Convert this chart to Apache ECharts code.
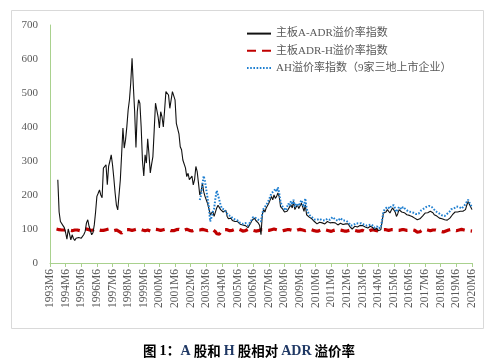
<!DOCTYPE html>
<html>
<head>
<meta charset="utf-8">
<script src="https://cdn.jsdelivr.net/npm/echarts/dist/echarts.min.js"></script>
<style>
html,body{margin:0;padding:0;background:#fff;}
#chart{width:494px;height:363px;}
</style>
</head>
<body>
<div id="chart"></div>
<script>
// ---- data ----
var startYear = 1993, startMonth = 6, monthCount = 325; // 1993M6 .. 2020M6
var seriesNames = ['主板A-ADR溢价率指数', '主板ADR-H溢价率指数', 'AH溢价率指数（9家三地上市企业）'];
var yTicks = [0, 100, 200, 300, 400, 500, 600, 700];

// 主板A-ADR溢价率指数, starts 1993M12 (index 6)
var aAdrStart = 6;
var aAdrValues = [
  245,150,122,123,110,104,
  89,70,100,85,68,83,72,66,73,70,75,70,
  73,78,84,93,118,127,108,95,83,89,112,150,
  196,205,215,200,192,279,283,289,230,284,300,318,
  289,250,206,170,156,160,245,320,397,338,362,401,
  450,480,530,602,520,445,340,445,480,470,400,300,
  256,318,294,365,320,265,290,313,390,470,475,430,
  397,445,430,400,450,504,500,494,455,480,504,504,
  480,411,416,380,342,333,303,308,280,254,264,245,
  250,256,230,245,284,269,235,200,210,235,210,196,
  196,175,160,142,145,152,137,140,162,170,166,157,
  155,150,147,155,137,130,127,132,125,122,122,118,
  122,118,114,115,112,108,110,108,104,103,117,125,
  128,132,125,127,117,110,83,142,157,150,162,160,
  176,185,196,186,200,190,196,206,195,166,162,157,
  150,147,152,157,165,171,162,181,157,165,171,160,
  157,176,165,152,171,142,140,135,132,130,127,122,
  117,115,118,120,122,118,117,115,120,122,120,118,
  117,119,122,118,115,112,114,117,117,113,112,115,
  117,115,108,103,100,105,108,110,106,108,110,112,
  110,108,106,104,103,106,108,108,104,98,100,102,
  95,90,98,100,147,152,150,157,155,147,155,162,
  158,150,137,145,157,155,150,152,148,147,142,140,
  140,138,137,135,132,130,127,128,130,132,138,142,
  147,150,148,152,152,150,148,142,140,138,135,132,
  135,130,128,127,125,126,127,132,137,142,145,150,
  152,150,155,152,150,152,155,157,170,181,176,165,157
];

// 主板ADR-H溢价率指数, starts 1993M11 (index 5)
var adrHStart = 5;
var adrHValues = [
  100,103,98,96,97,95,97,
  98,100,99,97,96,95,96,97,98,97,96,95,
  96,98,100,101,100,99,97,96,95,97,99,100,
  99,98,97,96,95,96,97,98,99,100,99,97,
  96,95,96,97,95,93,90,88,92,96,97,98,
  99,98,97,96,97,98,99,100,101,100,98,97,
  96,95,96,97,96,94,93,95,97,99,100,98,
  97,96,97,98,99,100,99,98,97,95,94,95,
  96,98,100,99,97,96,95,96,98,99,97,96,
  95,94,96,97,98,97,96,97,98,99,98,97,
  96,95,97,98,99,98,96,92,86,83,85,90,
  95,97,98,99,98,96,95,94,96,98,99,100,
  101,100,98,96,94,93,95,97,99,100,99,97,
  96,95,94,93,95,97,98,99,98,97,96,95,
  96,97,98,99,100,99,98,97,96,95,94,95,
  96,97,98,99,98,97,96,95,94,95,97,98,
  99,98,97,96,95,96,97,98,99,98,96,95,
  94,93,94,96,97,98,99,98,97,96,95,94,
  93,94,96,97,98,99,98,97,96,95,94,93,
  94,95,96,97,98,97,96,95,94,93,94,95,
  96,94,92,91,92,94,96,97,98,97,96,95,
  94,95,96,97,98,99,98,97,96,97,98,99,
  98,97,96,95,96,97,98,99,98,97,96,95,
  96,97,98,97,96,94,91,89,92,95,97,98,
  99,98,97,96,95,96,97,98,97,96,95,94,
  93,92,91,92,94,96,97,98,99,98,97,96,
  95,96,97,98,99,98,97,96,95,94,95,96,94
];

// AH溢价率指数（9家三地上市企业）, starts 2003M1 (index 115)
var ahStart = 115;
var ahValues = [
  185,200,230,256,240,
  215,190,165,122,135,150,160,190,213,200,185,170,
  160,155,157,150,145,140,135,138,132,130,128,125,
  125,120,118,122,115,112,118,115,110,112,122,128,
  135,137,132,130,127,125,122,145,160,158,170,175,
  185,195,205,200,212,218,210,223,205,180,170,162,
  158,155,165,175,168,182,172,186,165,175,180,168,
  170,185,175,165,190,160,150,142,138,135,132,128,
  125,127,128,130,127,126,128,125,127,130,128,127,
  130,135,132,128,126,124,128,132,130,125,122,125,
  122,120,115,110,108,112,115,117,114,116,118,117,
  115,113,112,110,108,112,114,113,110,104,106,108,
  102,98,104,108,150,158,157,165,162,160,168,172,
  170,160,150,155,165,162,158,165,160,158,155,152,
  152,150,152,148,145,144,140,145,150,155,157,160,
  162,165,163,168,171,165,160,157,152,150,148,145,
  142,140,142,138,140,145,148,152,158,162,160,164,
  166,162,165,163,160,165,168,170,180,186,182,170,165
];

// ---- build ----
var categories = [];
for (var k = 0; k < monthCount; k++) {
  var m = startMonth - 1 + k;
  categories.push((startYear + Math.floor(m / 12)) + 'M' + (m % 12 + 1));
}
function pad(start, vals) {
  var out = [];
  for (var i = 0; i < monthCount; i++) {
    var j = i - start;
    out.push(j >= 0 && j < vals.length ? vals[j] : null);
  }
  return out;
}

var serif = "'Liberation Serif', 'Times New Roman', 'Noto Sans CJK SC', serif";
var chart = echarts.init(document.getElementById('chart'), null, {renderer: 'canvas'});
chart.setOption({
  animation: false,
  backgroundColor: '#ffffff',
  grid: {left: 50, right: 22, top: 25, bottom: 100, containLabel: false},
  legend: {
    orient: 'vertical',
    left: 241,
    top: 23,
    itemWidth: 24,
    itemHeight: 14,
    itemGap: 6,
    itemStyle: {opacity: 0},
    textStyle: {fontFamily: serif, fontSize: 11, color: '#595959'},
    data: seriesNames
  },
  xAxis: {
    type: 'category',
    boundaryGap: false,
    data: categories,
    axisLine: {lineStyle: {color: '#a9d18e', width: 1}},
    axisTick: {show: true, interval: 11, length: 4, lineStyle: {color: '#a9d18e'}},
    axisLabel: {interval: 11, rotate: 90, margin: 6, fontFamily: serif, fontSize: 11.5, color: '#595959'},
    splitLine: {show: false}
  },
  yAxis: {
    type: 'value',
    min: yTicks[0],
    max: yTicks[yTicks.length - 1],
    interval: 100,
    axisLine: {show: true, lineStyle: {color: '#a9d18e', width: 1}},
    axisTick: {show: false},
    axisLabel: {margin: 12, fontFamily: serif, fontSize: 11, color: '#595959'},
    splitLine: {show: false}
  },
  series: [
    {
      name: seriesNames[0], type: 'line', data: pad(aAdrStart, aAdrValues),
      symbol: 'none', connectNulls: false,
      lineStyle: {color: '#111111', width: 1.1},
      itemStyle: {color: '#111111'}, z: 3
    },
    {
      name: seriesNames[1], type: 'line', data: pad(adrHStart, adrHValues),
      symbol: 'none',
      lineStyle: {color: '#c00000', width: 3.2, type: [9, 6]},
      itemStyle: {color: '#c00000'}, z: 2
    },
    {
      name: seriesNames[2], type: 'line', data: pad(ahStart, ahValues),
      symbol: 'none',
      lineStyle: {color: '#1f7fd0', width: 2, type: [1.6, 1.6]},
      itemStyle: {color: '#1f7fd0'}, z: 4
    }
  ],
  graphic: [
    {
      type: 'rect', silent: true, z: -1,
      shape: {x: 11.5, y: 10.5, width: 472, height: 318},
      style: {fill: 'none', stroke: '#d9d9d9', lineWidth: 1}
    },
    {
      type: 'text', x: 249, y: 351,
      style: {
        text: '{c|图 }{l|1：}{b|A}{c| 股和 }{b|H}{c| 股相对 }{b|ADR}{c| 溢价率}',
        align: 'center', verticalAlign: 'middle',
        rich: {
          c: {fontFamily: "'Noto Sans CJK SC', sans-serif", fontWeight: 'bold', fontSize: 13.5, fill: '#000000', color: '#000000'},
          l: {fontFamily: serif, fontWeight: 'bold', fontSize: 14, fill: '#000000', color: '#000000'},
          b: {fontFamily: serif, fontWeight: 'bold', fontSize: 14, fill: '#1f3864', color: '#1f3864'}
        }
      }
    }
  ]
});
</script>
</body>
</html>
